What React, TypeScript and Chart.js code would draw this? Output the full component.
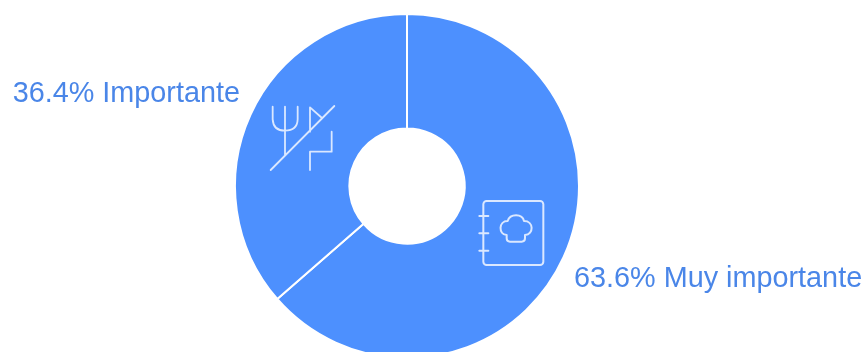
import React, { useEffect, useRef } from "react";
import { Chart, registerables } from "chart.js";

Chart.register(...registerables);

const categories = ["Muy importante", "Importante"];
const shares = [63.6, 36.4];

const SLICE_BLUE = "#4d90fe";
const LABEL_BLUE = "#4a86e8";
const ICON_STROKE = "#dbe8ff";

// Slice captions sit just past the outer rim, beside each slice's midpoint.
const sliceCaptions = {
  id: "sliceCaptions",
  afterDatasetsDraw(chart: any) {
    const { ctx } = chart;
    const arcs = chart.getDatasetMeta(0).data;
    ctx.save();
    ctx.font = '28.8px "Liberation Sans", Arial, sans-serif';
    ctx.fillStyle = LABEL_BLUE;
    ctx.textBaseline = "middle";
    arcs.forEach((arc: any, i: number) => {
      const { x, y, startAngle, endAngle, outerRadius } = arc.getProps(
        ["x", "y", "startAngle", "endAngle", "outerRadius"],
        true
      );
      const mid = (startAngle + endAngle) / 2;
      const right = Math.cos(mid) >= 0;
      const px = x + Math.cos(mid) * outerRadius + (right ? 10.5 : -10.5);
      const py = y + Math.sin(mid) * outerRadius + (right ? 22 : -21);
      ctx.textAlign = right ? "left" : "right";
      ctx.fillText(`${shares[i]}% ${categories[i]}`, px, py);
    });
    ctx.restore();
  },
};

// Thin outline pictograms laid over the two slices, placed from the chart centre.
const slicePictograms = {
  id: "slicePictograms",
  afterDatasetsDraw(chart: any) {
    const { ctx } = chart;
    const { x, y } = chart.getDatasetMeta(0).data[0].getProps(["x", "y"], true);
    ctx.save();
    ctx.strokeStyle = ICON_STROKE;
    ctx.lineWidth = 5.4;
    ctx.lineCap = "round";
    ctx.lineJoin = "round";

    // Crossed fork and knife
    ctx.save();
    ctx.translate(x - 167, y - 96);
    ctx.scale(1 / 3, 1 / 3);
    ctx.beginPath();
    ctx.moveTo(98, 50);
    ctx.lineTo(98, 88);
    ctx.quadraticCurveTo(100, 122, 135, 122);
    ctx.quadraticCurveTo(172, 122, 173, 88);
    ctx.lineTo(173, 50);
    ctx.moveTo(135, 50);
    ctx.lineTo(135, 195);
    ctx.moveTo(92, 240);
    ctx.lineTo(283, 48);
    ctx.moveTo(210, 125);
    ctx.lineTo(210, 52);
    ctx.lineTo(246, 84);
    ctx.moveTo(275, 125);
    ctx.lineTo(275, 185);
    ctx.lineTo(210, 185);
    ctx.moveTo(210, 185);
    ctx.lineTo(210, 240);
    ctx.stroke();
    ctx.restore();

    // Recipe book with a chef's hat
    ctx.save();
    ctx.translate(x + 53, y - 1);
    ctx.scale(1 / 3, 1 / 3);
    ctx.lineWidth = 6;
    ctx.beginPath();
    ctx.roundRect(70, 48, 180, 192, 10);
    ctx.moveTo(58, 93);
    ctx.lineTo(85, 93);
    ctx.moveTo(58, 145);
    ctx.lineTo(85, 145);
    ctx.moveTo(58, 197);
    ctx.lineTo(85, 197);
    ctx.moveTo(140, 150);
    ctx.bezierCurveTo(115, 148, 115, 108, 143, 108);
    ctx.bezierCurveTo(150, 85, 187, 85, 192, 108);
    ctx.bezierCurveTo(222, 108, 222, 148, 195, 150);
    ctx.lineTo(195, 160);
    ctx.quadraticCurveTo(195, 170, 185, 170);
    ctx.lineTo(150, 170);
    ctx.quadraticCurveTo(140, 170, 140, 160);
    ctx.closePath();
    ctx.stroke();
    ctx.restore();

    ctx.restore();
  },
};

export default function App() {
  const ref = useRef<HTMLCanvasElement>(null);

  useEffect(() => {
    const chart = new Chart(ref.current!, {
      type: "doughnut",
      data: {
        labels: categories,
        datasets: [
          {
            data: shares,
            backgroundColor: SLICE_BLUE,
            borderColor: "#ffffff",
            borderWidth: 2,
            hoverOffset: 0,
          },
        ],
      },
      options: {
        responsive: false,
        animation: false,
        cutout: "33.5%",
        layout: { padding: 13 },
        plugins: { legend: { display: false }, tooltip: { enabled: false } },
      },
      plugins: [sliceCaptions, slicePictograms],
    });
    return () => chart.destroy();
  }, []);

  return (
    <div style={{ position: "fixed", left: 0, top: 0, width: 864, height: 352, overflow: "hidden", background: "#fff" }}>
      <canvas ref={ref} width={914} height={372} style={{ position: "absolute", left: -50, top: 0 }} />
    </div>
  );
}
